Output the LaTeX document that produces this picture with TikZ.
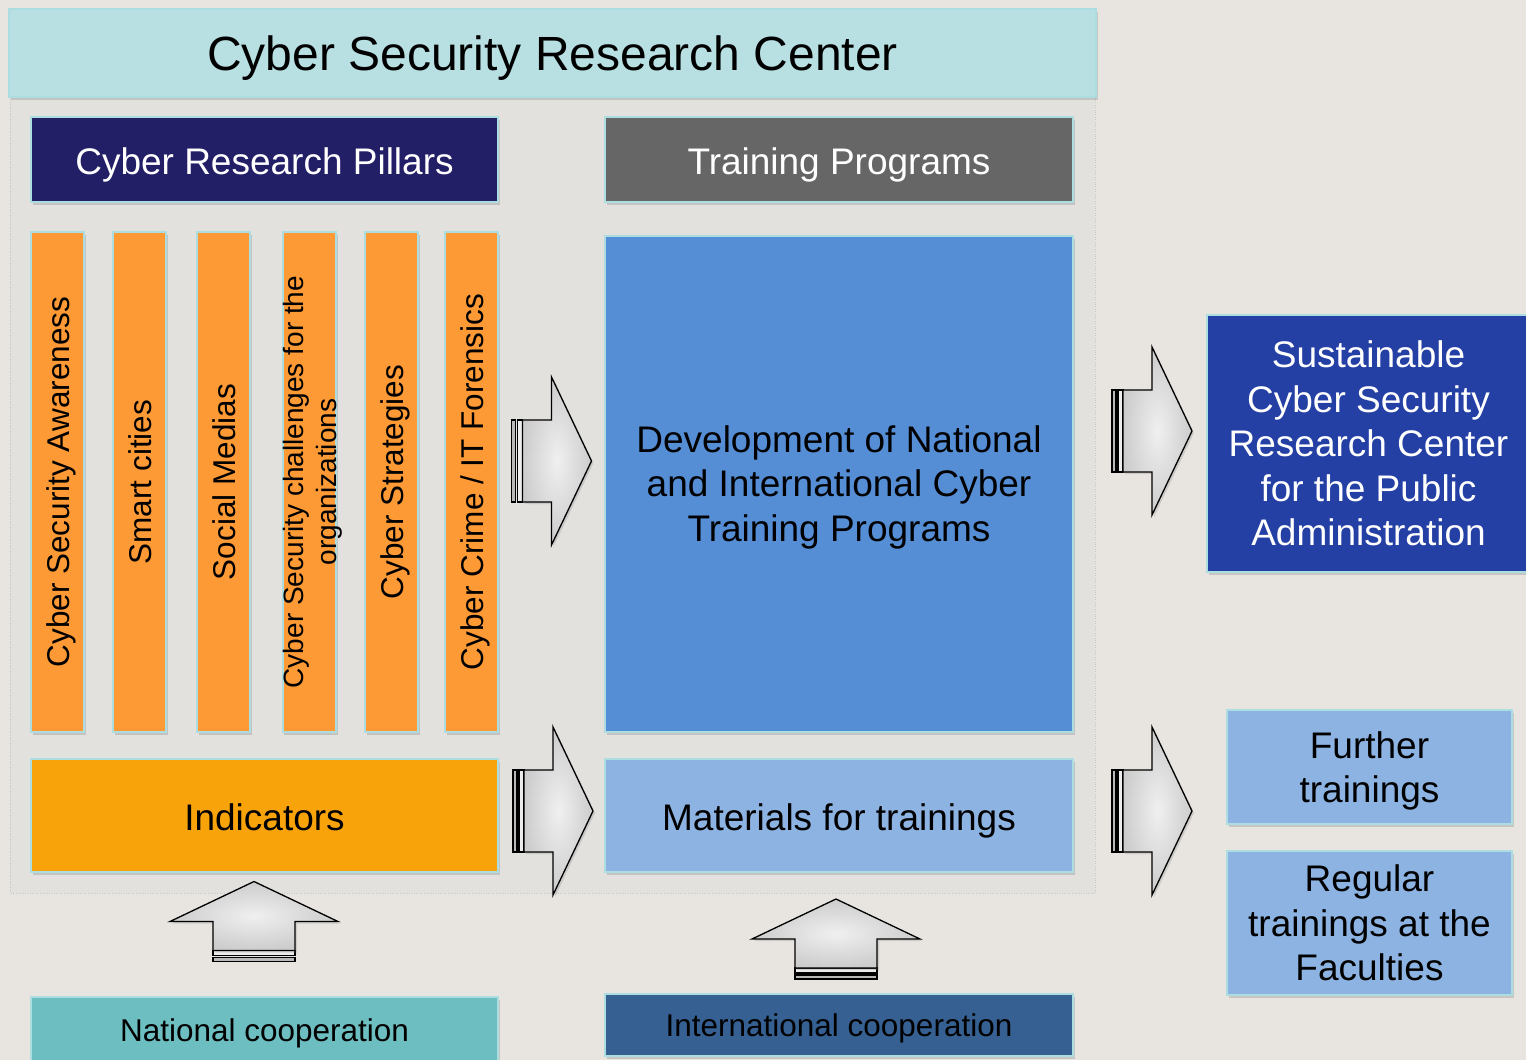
\documentclass[tikz,border=0pt]{standalone}
\usepackage{fontspec}
\setmainfont{Liberation Sans}
\usetikzlibrary{shadows}
\definecolor{bgcol}{HTML}{E8E5E1}
\definecolor{panelcol}{HTML}{E3E1DE}
\definecolor{titlecol}{HTML}{B8E0E3}
\definecolor{navycol}{HTML}{221F66}
\definecolor{greycol}{HTML}{666666}
\definecolor{pillarcol}{HTML}{FD9A35}
\definecolor{devcol}{HTML}{558ED5}
\definecolor{indcol}{HTML}{F9A30B}
\definecolor{lightcol}{HTML}{8DB3E2}
\definecolor{sustcol}{HTML}{2440A4}
\definecolor{tealcol}{HTML}{6DBEC1}
\definecolor{intlcol}{HTML}{366092}
\definecolor{boxline}{HTML}{ABDDE1}
\tikzstyle{box}=[draw=boxline,line width=1.5pt,align=center,inner sep=0pt,drop shadow={opacity=0.3,shadow xshift=1.5pt,shadow yshift=-2.5pt}]
\tikzstyle{bigtext}=[font=\fontsize{37}{44.5}\selectfont]
\tikzstyle{oneline}=[bigtext,text height=33pt,text depth=4pt]
\tikzstyle{pillar}=[box,fill=pillarcol,rotate=90,minimum width=500pt,minimum height=53pt,font=\fontsize{31.5}{36}\selectfont,text height=28pt,text depth=4.5pt]
\tikzstyle{coop}=[box,minimum width=467pt,font=\fontsize{31.5}{36}\selectfont,text height=28pt,text depth=4.6pt]
\tikzset{stripedarrow/.pic={
    \draw[line width=1.5pt,fill=gray!55] (-40,-41) rectangle (-36,41);
    \draw[line width=1.5pt,fill=gray!15] (-34,-41) rectangle (-29,41);
    \draw[line width=1.3pt,shading=radial,inner color=gray!12,outer color=gray!40,
          drop shadow={opacity=0.25,shadow xshift=2pt,shadow yshift=-2pt}]
        (-29,-41) -- (0,-41) -- (0,-84) -- (40,0) -- (0,84) -- (0,41) -- (-29,41) -- cycle;
}}

\begin{document}
\begin{tikzpicture}[x=1pt,y=-1pt]
    \useasboundingbox (0,0) rectangle (1526,1060);
    % background and the dotted panel
    \fill[bgcol] (0,0) rectangle (1526,1060);
    \draw[gray!45,dotted,fill=panelcol] (10,97) rectangle (1095,893);

    % title and the two column heads
    \node[box,fill=titlecol,minimum width=1087pt,minimum height=88pt,font=\fontsize{48}{56}\selectfont,text height=40pt,text depth=5.6pt] (title) at (552.5,53) {Cyber Security Research Center};
    \node[box,oneline,fill=navycol,text=white,minimum width=467pt,minimum height=85pt] (pillars) at (264.5,159.5) {Cyber Research Pillars};
    \node[box,oneline,fill=greycol,text=white,minimum width=468pt,minimum height=85pt] (training) at (839,159.5) {Training Programs};

    % the six pillars
    \foreach \x/\name/\txt in {57.5/awareness/{Cyber Security Awareness}, 139.5/smart/{Smart cities}, 223.5/social/{Social Medias}, 391.5/strategies/{Cyber Strategies}, 471.5/crime/{Cyber Crime / IT Forensics}}
        \node[pillar] (\name) at (\x,482) {\txt};
    \node[pillar,font=\fontsize{28}{33}\selectfont,text height=,text depth=0pt] (challenges) at (309.5,482) {Cyber Security challenges for the\\organizations};

    % middle boxes
    \node[box,bigtext,fill=devcol,minimum width=468pt,minimum height=496pt,text depth=1.8pt] (development) at (839,484) {Development of National\\and International Cyber\\Training Programs};
    \node[box,oneline,fill=indcol,minimum width=467pt,minimum height=113pt] (indicators) at (264.5,815.5) {Indicators};
    \node[box,oneline,fill=lightcol,minimum width=468pt,minimum height=113pt] (materials) at (839,815.5) {Materials for trainings};

    % results on the right
    \node[box,bigtext,fill=sustcol,text=white,minimum width=323pt,minimum height=257pt,text depth=-2pt] (sustainable) at (1368.5,443.5) {Sustainable\\Cyber Security\\Research Center\\for the Public\\Administration};
    \node[box,bigtext,fill=lightcol,minimum width=285pt,minimum height=114pt,text depth=0pt] (further) at (1369.5,767) {Further\\trainings};
    \node[box,bigtext,fill=lightcol,minimum width=285pt,minimum height=144pt,text depth=-4pt] (regular) at (1369.5,923) {Regular\\trainings at the\\Faculties};

    % cooperation at the bottom
    \node[coop,fill=tealcol,minimum height=66pt] (national) at (264.5,1030) {National cooperation};
    \node[coop,fill=intlcol,minimum width=468pt,minimum height=62pt] (international) at (839,1025) {International cooperation};

    % block arrows
    \pic at (551.5,461) {stripedarrow};
    \pic at (553,811) {stripedarrow};
    \pic at (1152,431) {stripedarrow};
    \pic at (1152,811) {stripedarrow};
    \pic[rotate=90] at (254,921.5) {stripedarrow};
    \pic[rotate=90] at (836,939) {stripedarrow};
\end{tikzpicture}
\end{document}
